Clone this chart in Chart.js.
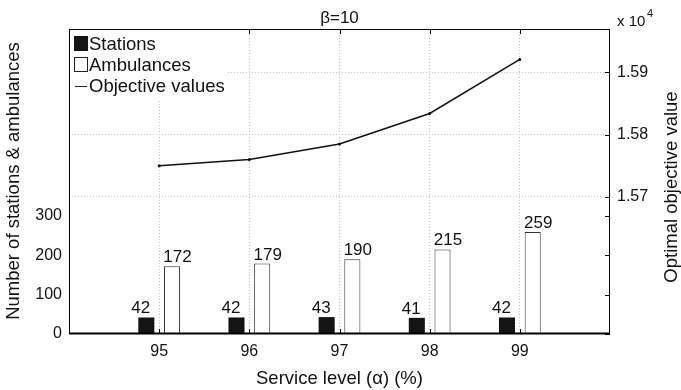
<!DOCTYPE html>
<html>
<head>
<meta charset="utf-8">
<script src="https://cdn.jsdelivr.net/npm/chart.js@4.4.0/dist/chart.umd.min.js"></script>
<style>
  body { margin: 0; background: #fff; }
</style>
</head>
<body>
<canvas id="myChart" width="681" height="390"></canvas>
<script>
const serviceLevels = [95, 96, 97, 98, 99];
const stations = [42, 42, 43, 41, 42];
const ambulances = [172, 179, 190, 215, 259];
const objectiveValues = [15750, 15760, 15785, 15834, 15921];
const countTicks = [0, 100, 200, 300];
const objectiveTicks = [15700, 15800, 15900];

const FONT = '"Liberation Sans", Arial, Helvetica, sans-serif';
const INK = '#111';

const toPoints = vals => serviceLevels.map((x, i) => ({ x: x, y: vals[i] }));

// value labels over bars, inward tick marks, box round the plot
const decorations = {
    id: 'decorations',
    afterDatasetsDraw(chart) {
        const ctx = chart.ctx;
        const a = chart.chartArea;
        const sx = chart.scales.x, sy = chart.scales.y, sy2 = chart.scales.y2;
        ctx.save();
        ctx.fillStyle = INK;
        ctx.font = '17px ' + FONT;
        ctx.textAlign = 'center';
        ctx.textBaseline = 'alphabetic';
        // labels sit a little outward from each bar pair, as in the original
        [[0, -5.5], [1, 5.5]].forEach(([i, shift]) => {
            chart.getDatasetMeta(i).data.forEach((bar, j) => {
                ctx.fillText(chart.data.datasets[i].data[j].y, bar.x + shift, bar.y - 4);
            });
        });

        ctx.strokeStyle = '#000';
        ctx.lineWidth = 1;
        ctx.beginPath();
        serviceLevels.forEach(v => {
            const px = Math.round(sx.getPixelForValue(v)) + 0.5;
            ctx.moveTo(px, a.bottom); ctx.lineTo(px, a.bottom - 5);
            ctx.moveTo(px, a.top); ctx.lineTo(px, a.top + 5);
        });
        countTicks.forEach(v => {
            const py = Math.round(sy.getPixelForValue(v)) + 0.5;
            ctx.moveTo(a.right, py); ctx.lineTo(a.right - 5, py);
        });
        objectiveTicks.forEach(v => {
            const py = Math.round(sy2.getPixelForValue(v)) + 0.5;
            ctx.moveTo(a.right, py); ctx.lineTo(a.right - 5, py);
        });
        ctx.stroke();

        ctx.strokeRect(a.left + 0.5, a.top + 0.5, a.right - a.left - 1, a.bottom - a.top - 1);
        ctx.lineWidth = 2;
        ctx.beginPath();
        ctx.moveTo(a.left, a.bottom - 0.5); ctx.lineTo(a.right, a.bottom - 0.5);
        ctx.stroke();
        ctx.restore();
    },
    afterDraw(chart) {
        const ctx = chart.ctx;
        const a = chart.chartArea;
        const midX = (a.left + a.right) / 2;
        const ds = chart.data.datasets;
        ctx.save();

        // legend, white box over the grid
        ctx.fillStyle = '#fff';
        ctx.fillRect(a.left + 1, a.top + 1, 158, 70);
        ctx.fillStyle = '#141414';
        ctx.fillRect(a.left + 5, a.top + 7, 14, 15);
        ctx.strokeStyle = '#222';
        ctx.lineWidth = 1;
        ctx.strokeRect(a.left + 5.5, a.top + 28.5, 13, 14);
        ctx.beginPath();
        ctx.moveTo(a.left + 6, a.top + 57.5); ctx.lineTo(a.left + 18, a.top + 57.5);
        ctx.stroke();
        ctx.fillStyle = INK;
        ctx.font = '18.5px ' + FONT;
        ctx.textAlign = 'left';
        ctx.textBaseline = 'alphabetic';
        ctx.fillText(ds[0].label, a.left + 20, a.top + 21);
        ctx.fillText(ds[1].label, a.left + 20, a.top + 42);
        ctx.fillText(ds[2].label, a.left + 20, a.top + 63);

        // titles
        ctx.textAlign = 'center';
        ctx.font = '17px ' + FONT;
        ctx.fillText('β=10', midX, 23);
        ctx.font = '18.5px ' + FONT;
        ctx.fillText('Service level (α) (%)', midX, 384);
        ctx.textBaseline = 'middle';
        ctx.save();
        ctx.translate(14, 181);
        ctx.rotate(-Math.PI / 2);
        ctx.fillText('Number of stations & ambulances', 0, 0);
        ctx.restore();
        ctx.save();
        ctx.translate(672, 187);
        ctx.rotate(-Math.PI / 2);
        ctx.fillText('Optimal objective value', 0, 0);
        ctx.restore();

        ctx.textAlign = 'left';
        ctx.textBaseline = 'alphabetic';
        ctx.font = '15px ' + FONT;
        ctx.fillText('x 10', a.right + 7, 26);
        ctx.font = '11px ' + FONT;
        ctx.fillText('4', a.right + 37, 17);
        ctx.restore();
    }
};

new Chart(document.getElementById('myChart').getContext('2d'), {
    type: 'bar',
    data: {
        datasets: [
            {
                label: 'Stations',
                data: toPoints(stations),
                yAxisID: 'y',
                backgroundColor: '#141414',
                borderWidth: 0
            },
            {
                label: 'Ambulances',
                data: toPoints(ambulances),
                yAxisID: 'y',
                backgroundColor: '#fff',
                borderColor: '#333',
                borderWidth: 1
            },
            {
                type: 'line',
                label: 'Objective values',
                data: toPoints(objectiveValues),
                yAxisID: 'y2',
                borderColor: '#111',
                backgroundColor: '#111',
                borderWidth: 1.5,
                pointRadius: 1.5,
                pointBorderWidth: 0,
                tension: 0
            }
        ]
    },
    options: {
        responsive: false,
        animation: false,
        devicePixelRatio: 1,
        layout: { padding: { top: 29, left: 0, right: 0, bottom: 0 } },
        categoryPercentage: 0.57,
        barPercentage: 0.625,
        plugins: {
            legend: { display: false },
            tooltip: { enabled: false }
        },
        scales: {
            x: {
                type: 'linear',
                min: 94,
                max: 100,
                offset: false,
                afterBuildTicks: s => { s.ticks = serviceLevels.map(v => ({ value: v })); },
                afterFit: s => { s.height = 56; },
                ticks: { color: INK, font: { family: FONT, size: 16 }, padding: 8 },
                grid: { offset: false, color: '#c4c4c4', lineWidth: 1, drawTicks: false },
                border: { display: false, dash: [1, 2] }
            },
            y: {
                type: 'linear',
                position: 'left',
                min: 0,
                max: 775,
                afterBuildTicks: s => { s.ticks = countTicks.map(v => ({ value: v })); },
                afterFit: s => { s.width = 69; },
                ticks: { color: INK, font: { family: FONT, size: 16 }, padding: 7 },
                grid: { display: false, drawTicks: false },
                border: { display: false }
            },
            y2: {
                type: 'linear',
                position: 'right',
                min: 15479,
                max: 15970,
                afterBuildTicks: s => { s.ticks = objectiveTicks.map(v => ({ value: v })); },
                afterFit: s => { s.width = 71; },
                ticks: {
                    color: INK,
                    font: { family: FONT, size: 16 },
                    padding: 7,
                    callback: v => (v / 10000).toFixed(2)
                },
                grid: { color: '#c4c4c4', lineWidth: 1, drawTicks: false },
                border: { display: false, dash: [1, 2] }
            }
        }
    },
    plugins: [decorations]
});
</script>
</body>
</html>
